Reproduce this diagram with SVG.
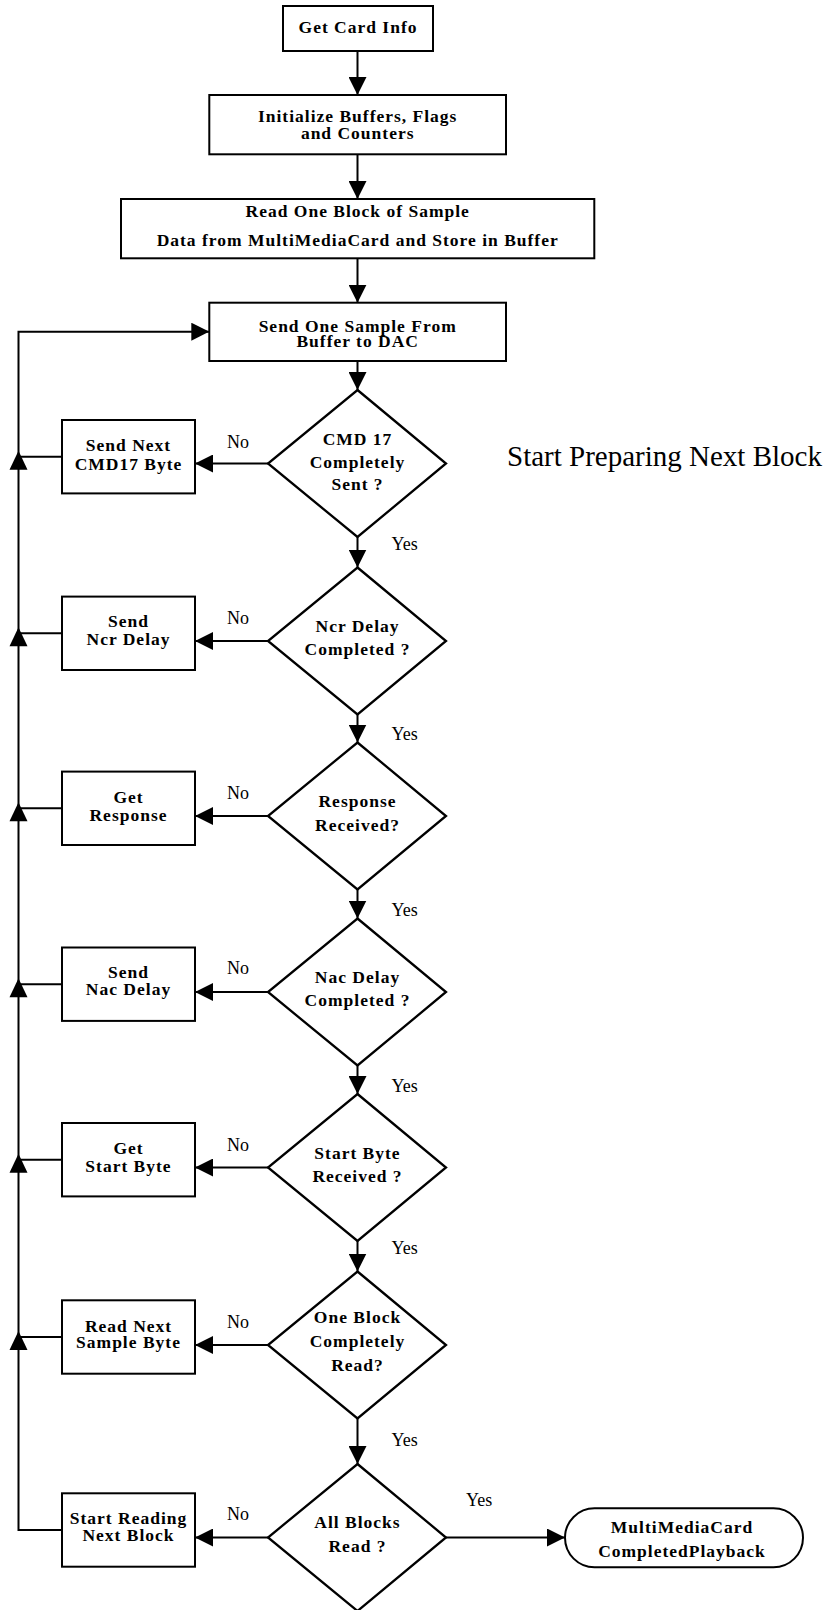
<svg xmlns="http://www.w3.org/2000/svg" width="828" height="1610" viewBox="0 0 828 1610">
<style>
.box{fill:#fff;stroke:#000;stroke-width:2}
.dia{fill:#fff;stroke:#000;stroke-width:2.3}
.t{font-family:"Liberation Serif","Times New Roman",serif;font-weight:bold;font-size:17.5px;letter-spacing:1px;text-anchor:middle;fill:#000}
.lbl{font-family:"Liberation Serif","Times New Roman",serif;font-size:18px;fill:#000}
.big{font-family:"Liberation Serif","Times New Roman",serif;font-size:29px;fill:#000}
.ln{fill:none;stroke:#000;stroke-width:2}
</style>
<defs>
<marker id="ah" markerUnits="userSpaceOnUse" markerWidth="18" markerHeight="18" refX="18" refY="9" orient="auto" viewBox="0 0 18 18">
<path d="M0,0 L18,9 L0,18 Z" fill="#000"/>
</marker>
<path id="up" d="M0,0 L9,19 L-9,19 Z" fill="#000"/>
</defs>

<g id="connectors">
<path class="ln" d="M357.5,50.7 V95" marker-end="url(#ah)"/>
<path class="ln" d="M357.5,154.3 V199" marker-end="url(#ah)"/>
<path class="ln" d="M357.5,258.3 V302.7" marker-end="url(#ah)"/>
<path class="ln" d="M357.5,361 V390" marker-end="url(#ah)"/>
<path class="ln" d="M357.5,537 V567.5" marker-end="url(#ah)"/>
<path class="ln" d="M357.5,714.5 V742.5" marker-end="url(#ah)"/>
<path class="ln" d="M357.5,889.5 V918.5" marker-end="url(#ah)"/>
<path class="ln" d="M357.5,1065.5 V1094" marker-end="url(#ah)"/>
<path class="ln" d="M357.5,1241 V1271.5" marker-end="url(#ah)"/>
<path class="ln" d="M357.5,1418.5 V1464" marker-end="url(#ah)"/>
<path class="ln" d="M268,463.5 H195" marker-end="url(#ah)"/>
<path class="ln" d="M268,641 H195" marker-end="url(#ah)"/>
<path class="ln" d="M268,816 H195" marker-end="url(#ah)"/>
<path class="ln" d="M268,992 H195" marker-end="url(#ah)"/>
<path class="ln" d="M268,1167.5 H195" marker-end="url(#ah)"/>
<path class="ln" d="M268,1345 H195" marker-end="url(#ah)"/>
<path class="ln" d="M268,1537.5 H195" marker-end="url(#ah)"/>
<path class="ln" d="M446,1537.5 H565" marker-end="url(#ah)"/>
<path class="ln" d="M62,456.7 H18.5"/>
<path class="ln" d="M62,633.3 H18.5"/>
<path class="ln" d="M62,808.3 H18.5"/>
<path class="ln" d="M62,984.2 H18.5"/>
<path class="ln" d="M62,1159.7 H18.5"/>
<path class="ln" d="M62,1337 H18.5"/>
<path class="ln" d="M62,1530 H18.5 V331.7 H209.3" marker-end="url(#ah)"/>
<use href="#up" x="18.5" y="450.7"/>
<use href="#up" x="18.5" y="627.3"/>
<use href="#up" x="18.5" y="802.3"/>
<use href="#up" x="18.5" y="978.2"/>
<use href="#up" x="18.5" y="1153.7"/>
<use href="#up" x="18.5" y="1331"/>
<text class="lbl" x="227" y="448">No</text>
<text class="lbl" x="227" y="624">No</text>
<text class="lbl" x="227" y="798.5">No</text>
<text class="lbl" x="227" y="974">No</text>
<text class="lbl" x="227" y="1150.5">No</text>
<text class="lbl" x="227" y="1328">No</text>
<text class="lbl" x="227" y="1520">No</text>
<text class="lbl" x="391.5" y="550">Yes</text>
<text class="lbl" x="391.5" y="740">Yes</text>
<text class="lbl" x="391.5" y="916">Yes</text>
<text class="lbl" x="391.5" y="1091.5">Yes</text>
<text class="lbl" x="391.5" y="1254">Yes</text>
<text class="lbl" x="391.5" y="1446">Yes</text>
<text class="lbl" x="466" y="1506">Yes</text>
</g>

<g id="get-card-info">
<rect class="box" x="283" y="6" width="150" height="45"/>
<text class="t" x="358" y="33.3">Get Card Info</text>
</g>
<g id="initialize">
<rect class="box" x="209.3" y="95" width="296.7" height="59.3"/>
<text class="t" x="357.7" y="121.5">Initialize Buffers, Flags</text>
<text class="t" x="357.7" y="138.5">and Counters</text>
</g>
<g id="read-block">
<rect class="box" x="121" y="199" width="473.3" height="59.3"/>
<text class="t" x="357.7" y="217.3">Read One Block of Sample</text>
<text class="t" x="357.7" y="245.7">Data from MultiMediaCard and Store in Buffer</text>
</g>
<g id="send-sample">
<rect class="box" x="209.3" y="302.7" width="296.7" height="58.3"/>
<text class="t" x="357.7" y="332">Send One Sample From</text>
<text class="t" x="357.7" y="347">Buffer to DAC</text>
</g>

<g id="d-cmd17">
<polygon class="dia" points="357.5,390 446,463.5 357.5,537 268,463.5"/>
<text class="t" x="357.5" y="445">CMD 17</text>
<text class="t" x="357.5" y="468">Completely</text>
<text class="t" x="357.5" y="490">Sent ?</text>
</g>
<g id="d-ncr">
<polygon class="dia" points="357.5,567.5 446,641 357.5,714.5 268,641"/>
<text class="t" x="357.5" y="632">Ncr Delay</text>
<text class="t" x="357.5" y="655">Completed ?</text>
</g>
<g id="d-response">
<polygon class="dia" points="357.5,742.5 446,816 357.5,889.5 268,816"/>
<text class="t" x="357.5" y="807">Response</text>
<text class="t" x="357.5" y="830.7">Received?</text>
</g>
<g id="d-nac">
<polygon class="dia" points="357.5,918.5 446,992 357.5,1065.5 268,992"/>
<text class="t" x="357.5" y="983">Nac Delay</text>
<text class="t" x="357.5" y="1006">Completed ?</text>
</g>
<g id="d-startbyte">
<polygon class="dia" points="357.5,1094 446,1167.5 357.5,1241 268,1167.5"/>
<text class="t" x="357.5" y="1158.5">Start Byte</text>
<text class="t" x="357.5" y="1182">Received ?</text>
</g>
<g id="d-oneblock">
<polygon class="dia" points="357.5,1271.5 446,1345 357.5,1418.5 268,1345"/>
<text class="t" x="357.5" y="1323.3">One Block</text>
<text class="t" x="357.5" y="1347.3">Completely</text>
<text class="t" x="357.5" y="1371">Read?</text>
</g>
<g id="d-allblocks">
<polygon class="dia" points="357.5,1464 446,1537.5 357.5,1611 268,1537.5"/>
<text class="t" x="357.5" y="1528.3">All Blocks</text>
<text class="t" x="357.5" y="1551.7">Read ?</text>
</g>

<g id="b-cmd17">
<rect class="box" x="62" y="420" width="133" height="73.4"/>
<text class="t" x="128.5" y="450.7">Send Next</text>
<text class="t" x="128.5" y="470">CMD17 Byte</text>
</g>
<g id="b-ncr">
<rect class="box" x="62" y="596.6" width="133" height="73.4"/>
<text class="t" x="128.5" y="627.3">Send</text>
<text class="t" x="128.5" y="644.5">Ncr Delay</text>
</g>
<g id="b-response">
<rect class="box" x="62" y="771.6" width="133" height="73.4"/>
<text class="t" x="128.5" y="803.3">Get</text>
<text class="t" x="128.5" y="820.7">Response</text>
</g>
<g id="b-nac">
<rect class="box" x="62" y="947.5" width="133" height="73.4"/>
<text class="t" x="128.5" y="978.3">Send</text>
<text class="t" x="128.5" y="995">Nac Delay</text>
</g>
<g id="b-startbyte">
<rect class="box" x="62" y="1123" width="133" height="73.4"/>
<text class="t" x="128.5" y="1154">Get</text>
<text class="t" x="128.5" y="1171.7">Start Byte</text>
</g>
<g id="b-readnext">
<rect class="box" x="62" y="1300.3" width="133" height="73.4"/>
<text class="t" x="128.5" y="1331.7">Read Next</text>
<text class="t" x="128.5" y="1348.3">Sample Byte</text>
</g>
<g id="b-startreading">
<rect class="box" x="62" y="1493.3" width="133" height="73.4"/>
<text class="t" x="128.5" y="1524">Start Reading</text>
<text class="t" x="128.5" y="1540.7">Next Block</text>
</g>

<g id="terminal">
<rect class="box" x="565" y="1508.3" width="238" height="59" rx="29.5" ry="29.5"/>
<text class="t" x="682" y="1532.7">MultiMediaCard</text>
<text class="t" x="682" y="1556.7">CompletedPlayback</text>
</g>

<g id="note">
<text class="big" x="507" y="466">Start Preparing Next Block</text>
</g>
</svg>
